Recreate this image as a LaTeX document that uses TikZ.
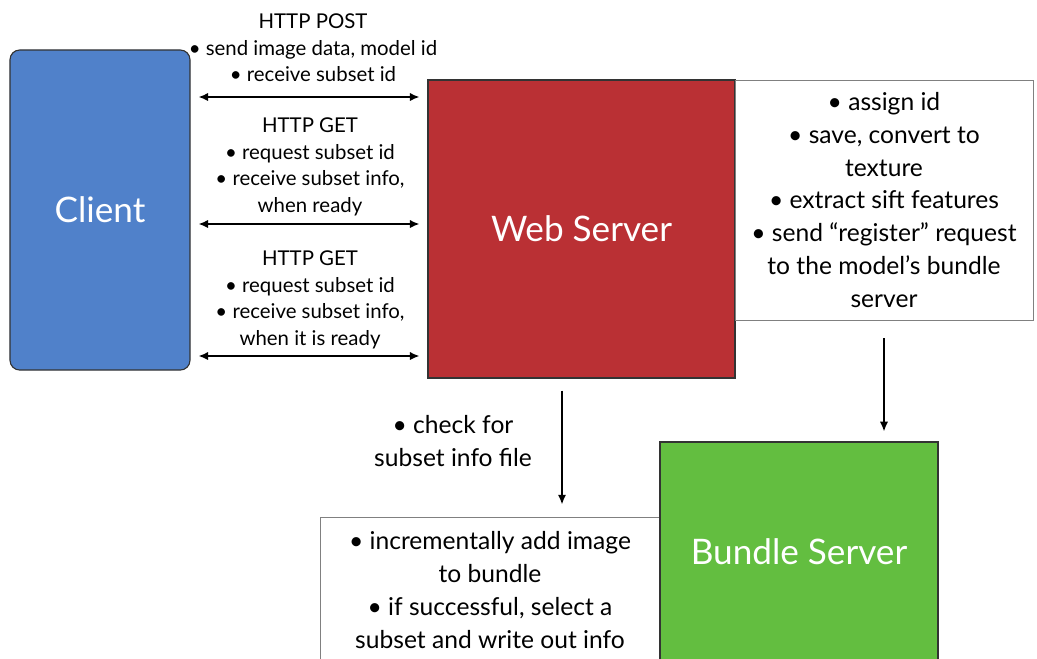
\documentclass[tikz,border=0pt]{standalone}
\usepackage{fontspec}
\setmainfont{Lato}
\usetikzlibrary{arrows.meta,positioning}

\definecolor{clientblue}{RGB}{80,129,202}
\definecolor{webred}{RGB}{186,48,52}
\definecolor{bundlegreen}{RGB}{99,190,64}

\begin{document}
\begin{tikzpicture}[x=0.025cm,y=-0.025cm,
    server/.style={draw=black!80,line width=0.8pt,text=white,
      font=\fontsize{25}{30}\selectfont},
    note/.style={draw=black!50,line width=0.6pt,fill=white,align=center,
      font=\fontsize{17.5}{23.4}\selectfont},
    msg/.style={align=center,inner sep=0pt,font=\fontsize{14.5}{18.8}\selectfont},
    link/.style={{Latex[length=7pt,width=6pt]}-{Latex[length=7pt,width=6pt]},
      line width=1.5pt,shorten <=5.5pt,shorten >=5.5pt},
    flow/.style={-{Latex[length=7pt,width=6pt]},line width=1.5pt}]

  \useasboundingbox (0,0) rectangle (1037,658);
  \clip (0,0) rectangle (1037,658);

  % Client and web server
  \node[server,fill=clientblue,rounded corners=7pt,minimum width=4.5cm,
    minimum height=8cm] (client) at (100,210) {Client};
  \node[server,fill=webred,minimum width=7.675cm,minimum height=7.45cm]
    (web) at (581.5,229) {Web Server};

  % what the web server does
  \node[note,minimum width=7.45cm,minimum height=6cm] (tasks) at (884,200)
    {• assign id\\• save, convert to\\texture\\• extract sift features\\
     • send “register” request\\to the model’s bundle\\server};

  % Bundle server and its work
  \node[note,minimum width=8.5cm,minimum height=3.65cm] (bundlework) at (490,590)
    {• incrementally add image\\to bundle\\• if successful, select a\\
     subset and write out info};
  \node[server,fill=bundlegreen,minimum width=6.95cm,minimum height=5.5cm]
    (bundle) at (799,552) {Bundle Server};

  % Requests between client and web server
  \node[msg] (post) at (313,48)
    {HTTP POST\\• send image data, model id\\• receive subset id};
  \node[msg] (get1) at (310,167)
    {HTTP GET\\• request subset id\\• receive subset info,\\when ready};
  \node[msg] (get2) at (310,300)
    {HTTP GET\\• request subset id\\• receive subset info,\\when it is ready};

  \draw[link] (client.east |- 0,97) -- (web.west |- 0,97);
  \draw[link] (client.east |- 0,224) -- (web.west |- 0,224);
  \draw[link] (client.east |- 0,356) -- (web.west |- 0,356);

  % Polling and registering
  \coordinate (drop) at (562,0);
  \node[note,draw=none,fill=none] (check) at (453,441) {• check for\\subset info file};
  \draw[flow,shorten <=8.5pt,shorten >=8.5pt] (web.south -| drop) -- (bundlework.north -| drop);
  \draw[flow,shorten <=12.8pt,shorten >=7pt] (tasks.south) -- (tasks.south |- bundle.north);
\end{tikzpicture}
\end{document}
